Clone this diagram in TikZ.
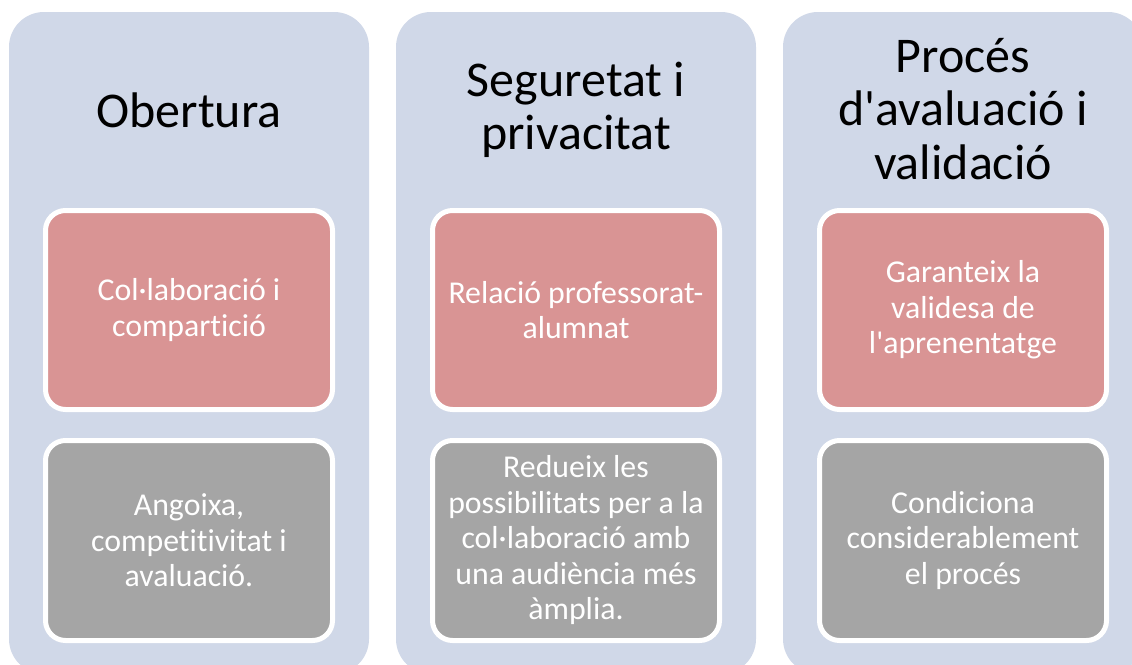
\documentclass[tikz,border=0pt]{standalone}
\usepackage{fontspec}
\newfontfamily\calfont{Carlito}[Ligatures=NoCommon]
\definecolor{colbg}{HTML}{D0D8E8}
\definecolor{pinkbox}{HTML}{D99494}
\definecolor{graybox}{HTML}{A5A5A5}
\begin{document}
\begin{tikzpicture}[x=1pt,y=-1pt,
  column/.style={fill=colbg,draw=none,rounded corners=35pt,minimum width=360pt,minimum height=662pt,inner sep=0pt},
  title/.style={font=\calfont\fontsize{50}{53.5}\selectfont,text=black,align=center,inner sep=0pt},
  inner/.style={draw=white,line width=5pt,rounded corners=20pt,minimum width=287pt,inner sep=0pt,
    text=white,align=center,font=\calfont\fontsize{31.8}{35.5}\selectfont},
  pinkbx/.style={inner,fill=pinkbox,minimum height=199pt},
  graybx/.style={inner,fill=graybox,minimum height=200pt}]
\useasboundingbox (0,0) rectangle (1132,664);
\clip (0,0) rectangle (1132,664);
\fill[white] (0,0) rectangle (1132,664);
% column 1
\node[column] (c1) at (189,343) {};
\node[title] (t1) at (189,110) {Obertura};
\node[pinkbx] (p1) at (189,310) {Col·laboració i\\compartició};
\node[graybx] (g1) at (189,540.5) {Angoixa,\\competitivitat i\\avaluació.};
% column 2
\node[column] (c2) at (576,343) {};
\node[title] (t2) at (576,110) {Seguretat i\\privacitat};
\node[pinkbx] (p2) at (576,310) {Relació professorat-\\alumnat};
\node[graybx] (g2) at (576,540.5) {Redueix les\\possibilitats per a la\\col·laboració amb\\una audiència més\\àmplia.};
% column 3
\node[column] (c3) at (963,343) {};
\node[title] (t3) at (963,109) {Procés\\d'avaluació i\\validació};
\node[pinkbx] (p3) at (963,310) {Garanteix la\\validesa de\\l'aprenentatge};
\node[graybx] (g3) at (963,540.5) {Condiciona\\considerablement\\el procés};
\end{tikzpicture}
\end{document}
